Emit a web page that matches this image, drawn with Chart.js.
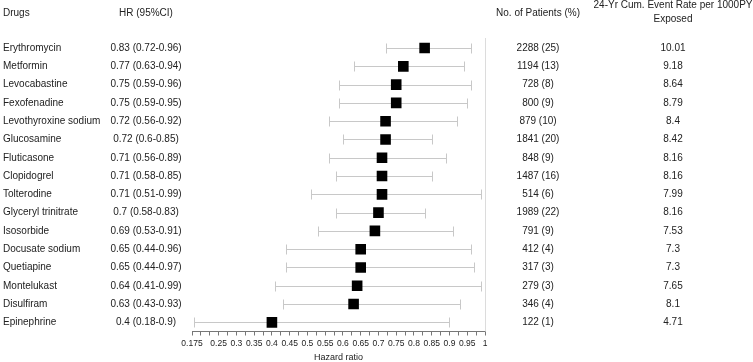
<!DOCTYPE html>
<html>
<head>
<meta charset="utf-8">
<script src="https://cdn.jsdelivr.net/npm/chart.js@4/dist/chart.umd.min.js"></script>
<style>
  html, body { margin: 0; padding: 0; background: #fff; }
  #wrap { width: 753px; height: 362px; }
</style>
</head>
<body>
<div id="wrap"><canvas id="forest" width="753" height="362"></canvas></div>
<script>
// data
const drugs = ['Erythromycin', 'Metformin', 'Levocabastine', 'Fexofenadine', 'Levothyroxine sodium',
  'Glucosamine', 'Fluticasone', 'Clopidogrel', 'Tolterodine', 'Glyceryl trinitrate', 'Isosorbide',
  'Docusate sodium', 'Quetiapine', 'Montelukast', 'Disulfiram', 'Epinephrine'];
const hr = [0.83, 0.77, 0.75, 0.75, 0.72, 0.72, 0.71, 0.71, 0.71, 0.7, 0.69, 0.65, 0.65, 0.64, 0.63, 0.4];
const lower = [0.72, 0.63, 0.59, 0.59, 0.56, 0.6, 0.56, 0.58, 0.51, 0.58, 0.53, 0.44, 0.44, 0.41, 0.43, 0.18];
const upper = [0.96, 0.94, 0.96, 0.95, 0.92, 0.85, 0.89, 0.85, 0.99, 0.83, 0.91, 0.96, 0.97, 0.99, 0.93, 0.9];
const patients = [2288, 1194, 728, 800, 879, 1841, 848, 1487, 514, 1989, 791, 412, 317, 279, 346, 122];
const patientPct = [25, 13, 8, 9, 10, 20, 9, 16, 6, 22, 9, 4, 3, 3, 4, 1];
const eventRate = [10.01, 9.18, 8.64, 8.79, 8.4, 8.42, 8.16, 8.16, 7.99, 8.16, 7.53, 7.3, 7.3, 7.65, 8.1, 4.71];
const tickLabels = [0.175, 0.25, 0.3, 0.35, 0.4, 0.45, 0.5, 0.55, 0.6, 0.65, 0.7, 0.75, 0.8, 0.85, 0.9, 0.95, 1];
const refValue = 1;

const FONT = '"Liberation Sans", Arial, sans-serif';
const TXT = '#222';

const points = hr.map((v, i) => ({ x: v, y: i }));

// whiskers, reference line and the side table
const forestPlugin = {
  id: 'forest',
  beforeDatasetsDraw(chart) {
    const { ctx, chartArea, scales: { x, y } } = chart;
    ctx.save();
    // reference line at HR = 1
    ctx.strokeStyle = '#dcdcdc';
    ctx.lineWidth = 1;
    const rx = Math.round(x.getPixelForValue(refValue)) + 0.5;
    ctx.beginPath();
    ctx.moveTo(rx, chartArea.top);
    ctx.lineTo(rx, chartArea.bottom);
    ctx.stroke();

    ctx.strokeStyle = '#c8c8c8';
    for (let i = 0; i < hr.length; i++) {
      const py = Math.round(y.getPixelForValue(i)) + 0.5;
      const x1 = Math.round(x.getPixelForValue(lower[i])) + 0.5;
      const x2 = Math.round(x.getPixelForValue(upper[i])) + 0.5;
      ctx.beginPath();
      ctx.moveTo(x1, py); ctx.lineTo(x2, py);
      ctx.moveTo(x1, py - 5); ctx.lineTo(x1, py + 5);
      ctx.moveTo(x2, py - 5); ctx.lineTo(x2, py + 5);
      ctx.stroke();
    }
    ctx.restore();
  },
  afterDraw(chart) {
    const { ctx, scales: { y } } = chart;
    ctx.save();
    ctx.fillStyle = TXT;
    ctx.font = '10px ' + FONT;
    ctx.textBaseline = 'middle';

    // headers
    ctx.textAlign = 'left';
    ctx.fillText('Drugs', 3, 13);
    ctx.textAlign = 'center';
    ctx.fillText('HR (95%CI)', 146, 13);
    ctx.fillText('No. of Patients (%)', 538, 13);
    ctx.fillText('24-Yr Cum. Event Rate per 1000PY', 673, 5);
    ctx.fillText('Exposed', 673, 19);

    for (let i = 0; i < drugs.length; i++) {
      const py = y.getPixelForValue(i);
      ctx.textAlign = 'left';
      ctx.fillText(drugs[i], 3, py);
      ctx.textAlign = 'center';
      ctx.fillText(hr[i] + ' (' + lower[i] + '-' + upper[i] + ')', 146, py);
      ctx.fillText(patients[i] + ' (' + patientPct[i] + ')', 538, py);
      ctx.fillText(String(eventRate[i]), 673, py);
    }
    ctx.restore();
  }
};

new Chart(document.getElementById('forest'), {
  type: 'scatter',
  data: {
    datasets: [{
      data: points,
      pointStyle: 'rect',
      pointRadius: 7.5,
      pointHoverRadius: 7.5,
      backgroundColor: '#000',
      borderColor: '#000',
      borderWidth: 0
    }]
  },
  options: {
    responsive: false,
    animation: false,
    devicePixelRatio: 1,
    layout: { padding: { left: 192, right: 268, top: 38, bottom: 0 } },
    plugins: { legend: { display: false }, tooltip: { enabled: false } },
    scales: {
      x: {
        type: 'linear',
        min: 0.175,
        max: 1,
        afterBuildTicks(scale) {
          const t = [];
          for (let k = 0; k <= 33; k++) t.push({ value: Math.round((0.175 + k * 0.025) * 1000) / 1000 });
          scale.ticks = t;
        },
        ticks: {
          autoSkip: false,
          maxRotation: 0,
          padding: 4,
          color: TXT,
          font: { size: 8.5, family: FONT, lineHeight: 1 },
          callback: (v) => tickLabels.some(t => Math.abs(t - v) < 1e-6) ? String(v) : ''
        },
        grid: { drawOnChartArea: false, drawTicks: true, tickLength: 4, color: '#777' },
        border: { color: '#777', width: 1 },
        title: {
          display: true,
          text: 'Hazard ratio',
          color: TXT,
          font: { size: 9, family: FONT, lineHeight: 1 },
          padding: { top: 1, bottom: 0 }
        }
      },
      y: {
        type: 'linear',
        display: false,
        reverse: true,
        min: -0.55,
        max: 15.5
      }
    }
  },
  plugins: [forestPlugin]
});
</script>
</body>
</html>
